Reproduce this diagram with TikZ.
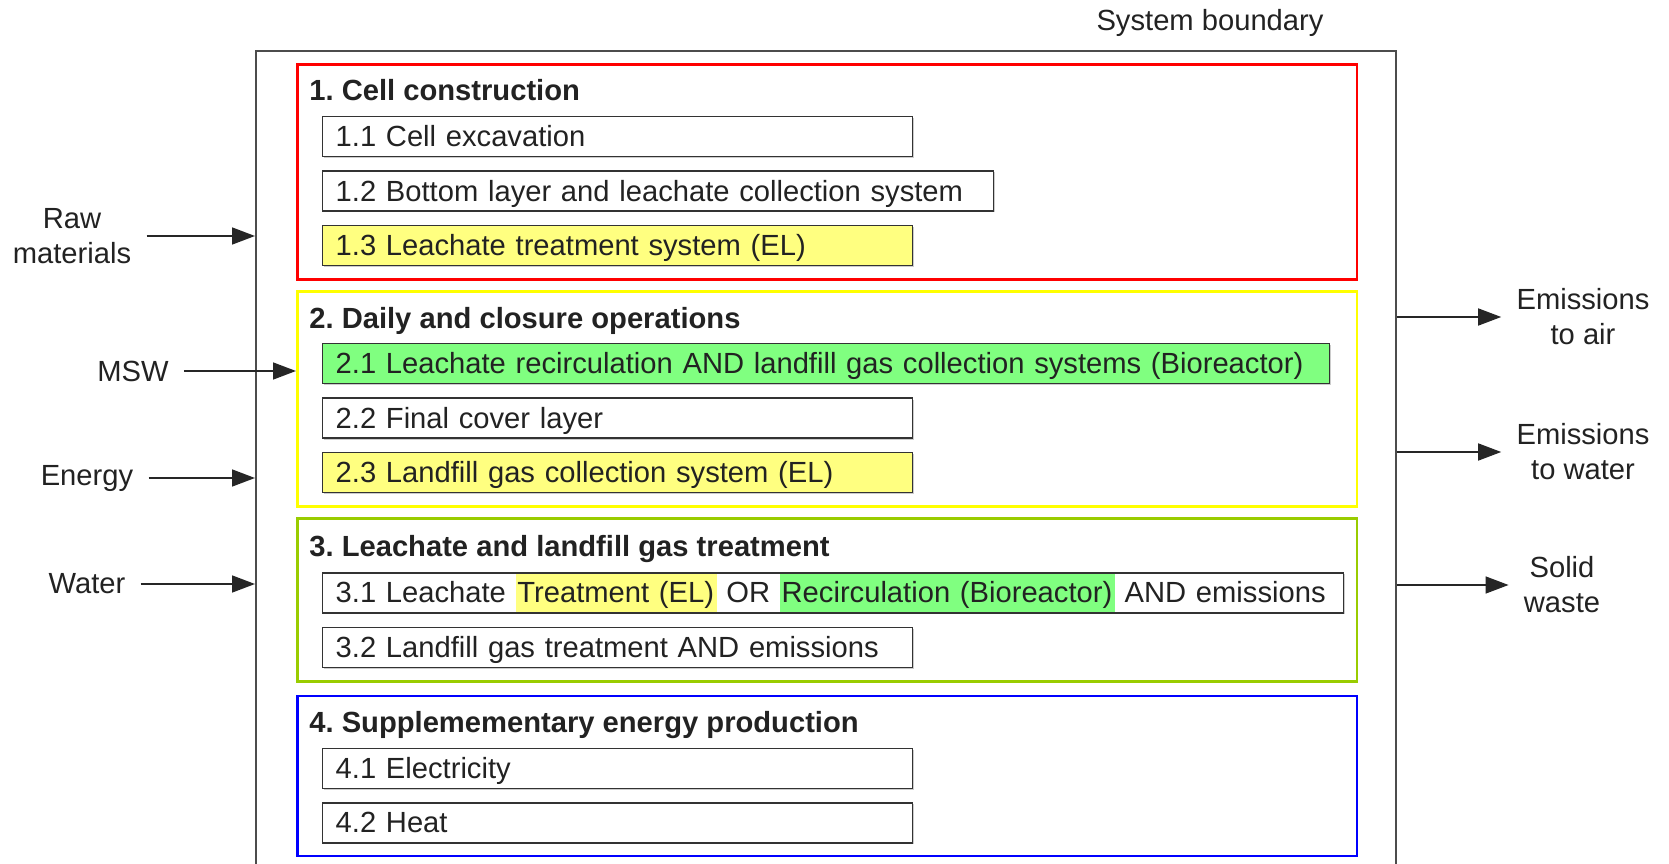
\documentclass[tikz,border=0pt]{standalone}
\usepackage{fontspec}
\setmainfont{Liberation Sans}
\usepackage{xcolor}
\usepackage{tikz}
\usetikzlibrary{arrows.meta,positioning,shadows}
\definecolor{rojo}{HTML}{FF0000}
\definecolor{amarillo}{HTML}{FFFF00}
\definecolor{lima}{HTML}{99CC00}
\definecolor{azul}{HTML}{0000FF}
\definecolor{amarilloclaro}{HTML}{FFFF80}
\definecolor{verdeclaro}{HTML}{80FF80}
\definecolor{borde}{HTML}{333333}
\definecolor{texto}{HTML}{222222}
\AtBeginDocument{\frenchspacing}
\newcommand{\alto}{\rule[-2mm]{0pt}{8mm}}
\newcommand{\resalta}[2]{{\setlength{\fboxsep}{0pt}\colorbox{#1}{\rule[-1.8mm]{0pt}{7.6mm}\kern1pt #2\kern1.5pt}}}
\tikzset{
  letra/.style={font=\fontsize{16.6}{20}\selectfont,text=texto},
  caja/.style={letra,draw=borde,fill=white,line width=0.8pt,inner xsep=2.6mm,inner ysep=0pt,
    text width=#1,align=left,anchor=north west,
    drop shadow={shadow xshift=0.8pt,shadow yshift=-0.8pt,opacity=0.4}},
  caja/.default=11.28cm,
  cajaamarilla/.style={caja=#1,fill=amarilloclaro},
  cajaamarilla/.default=11.28cm,
  cajaverde/.style={caja=#1,fill=verdeclaro},
  grupo/.style={line width=1.5pt,minimum width=21.2cm,anchor=north west,inner sep=0pt},
  titulo/.style={font=\fontsize{16.6}{20}\selectfont\bfseries,text=texto,anchor=base west,inner sep=0pt},
  entrada/.style={letra,align=center,inner xsep=3mm},
  flecha/.style={-{Triangle[length=4.6mm,width=3.4mm]},line width=0.9pt,black!85},
}

\begin{document}
\begin{tikzpicture}[x=0.02cm,y=-0.02cm]
  \useasboundingbox (0,0) rectangle (1669,864);
  % limite del sistema (abierto por abajo)
  \node[draw=black!70,line width=1pt,anchor=north west,minimum width=22.8cm,minimum height=17cm,inner sep=0pt] (frontera) at (255,50) {};
  \node[letra] (etiq) at (1210,23) {System boundary};

  % grupos
  \node[grupo,draw=rojo,minimum height=4.3cm] (g1) at (296,63) {};
  \node[grupo,draw=amarillo,minimum height=4.3cm,below=1.9mm of g1] (g2) {};
  \node[grupo,draw=lima,minimum height=3.26cm,below=1.9mm of g2] (g3) {};
  \node[grupo,draw=azul,minimum height=3.2cm,below=2.4mm of g3] (g4) {};

  \node[titulo] (t1) at ([shift={(2.6mm,-7.6mm)}]g1.north west) {1. Cell construction};
  \node[caja] (b11) at ([shift={(5.2mm,-10.6mm)}]g1.north west) {\alto 1.1 Cell excavation};
  \node[caja=12.9cm,below right=2.6mm and 0pt of b11.south west] (b12) {\alto 1.2 Bottom layer and leachate collection system};
  \node[cajaamarilla,below right=2.6mm and 0pt of b12.south west] (b13) {\alto 1.3 Leachate treatment system (EL)};

  \node[titulo] (t2) at ([shift={(2.6mm,-7.6mm)}]g2.north west) {2. Daily and closure operations};
  \node[cajaverde=19.62cm] (b21) at ([shift={(5.2mm,-10.6mm)}]g2.north west) {\alto 2.1 Leachate recirculation AND landfill gas collection systems (Bioreactor)};
  \node[caja,below right=2.6mm and 0pt of b21.south west] (b22) {\alto 2.2 Final cover layer};
  \node[cajaamarilla,below right=2.6mm and 0pt of b22.south west] (b23) {\alto 2.3 Landfill gas collection system (EL)};

  \node[titulo] (t3) at ([shift={(2.6mm,-7.8mm)}]g3.north west) {3. Leachate and landfill gas treatment};
  \node[caja=19.9cm] (b31) at ([shift={(5.2mm,-11mm)}]g3.north west) {\mbox{\alto 3.1 Leachate \resalta{amarilloclaro}{Treatment (EL)} OR \resalta{verdeclaro}{Recirculation (Bioreactor)} AND emissions}};
  \node[caja,below right=2.6mm and 0pt of b31.south west] (b32) {\alto 3.2 Landfill gas treatment AND emissions};

  \node[titulo] (t4) at ([shift={(2.6mm,-7.6mm)}]g4.north west) {4. Supplemementary energy production};
  \node[caja] (b41) at ([shift={(5.2mm,-10.6mm)}]g4.north west) {\alto 4.1 Electricity};
  \node[caja,below right=2.6mm and 0pt of b41.south west] (b42) {\alto 4.2 Heat};

  % entradas y salidas
  \node[entrada] (crudo) at (72,236) {Raw\\materials};
  \node[entrada] (rsu) at (133,371) {MSW};
  \node[entrada] (energia) at (87,478) {Energy};
  \node[entrada] (agua) at (87,584) {Water};
  \node[entrada] (aire) at (1583,317) {Emissions\\to air};
  \node[entrada] (aguas) at (1583,452) {Emissions\\to water};
  \node[entrada] (solidos) at (1562,585) {Solid\\waste};

  \draw[flecha] (crudo.east) -- (crudo.east -| frontera.west);
  \draw[flecha] (rsu.east) -- (rsu.east -| g2.west);
  \draw[flecha] (energia.east) -- (energia.east -| frontera.west);
  \draw[flecha] (agua.east) -- (agua.east -| frontera.west);
  \draw[flecha] (aire.west -| frontera.east) -- (aire.west);
  \draw[flecha] (aguas.west -| frontera.east) -- (aguas.west);
  \draw[flecha] (solidos.west -| frontera.east) -- (solidos.west);
\end{tikzpicture}
\end{document}
